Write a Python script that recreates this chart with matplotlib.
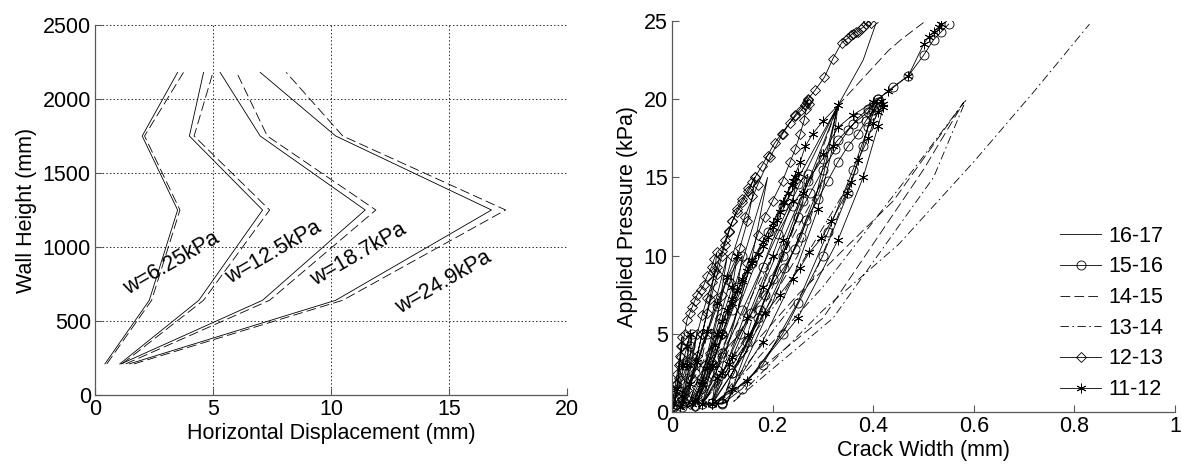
import matplotlib
matplotlib.use("Agg")
import matplotlib.pyplot as plt
import numpy as np

plt.rcParams['font.family'] = ['Liberation Sans', 'DejaVu Sans']
plt.rcParams['lines.scale_dashes'] = False

# ---------------- Left panel data: wall height vs horizontal displacement ----------------
heights = [210, 640, 1250, 1750, 2180]
loads = ['w=6.25kPa', 'w=12.5kPa', 'w=18.7kPa', 'w=24.9kPa']
disp_solid = {
    'w=6.25kPa': [0.42, 2.3, 3.5, 2.0, 3.5],
    'w=12.5kPa': [1.05, 4.4, 7.1, 4.0, 4.6],
    'w=18.7kPa': [1.1, 7.1, 11.45, 7.0, 5.3],
    'w=24.9kPa': [1.45, 10.2, 16.8, 10.2, 7.0],
}
disp_dashed = {
    'w=6.25kPa': [0.5, 2.4, 3.6, 2.1, 3.75],
    'w=12.5kPa': [1.15, 4.6, 7.4, 4.2, 5.0],
    'w=18.7kPa': [1.3, 7.4, 11.9, 7.3, 6.0],
    'w=24.9kPa': [1.65, 10.5, 17.4, 10.5, 8.1],
}
label_pos = {  # (x, height)
    'w=6.25kPa': (3.25, 890),
    'w=12.5kPa': (7.55, 960),
    'w=18.7kPa': (11.15, 946),
    'w=24.9kPa': (14.75, 763),
}

# ---------------- Right panel data: applied pressure vs crack width ----------------
series_names = ['16-17', '15-16', '14-15', '13-14', '12-13', '11-12']

cw_16_17 = [0.0, 0.03, 0.05, 0.035, 0.02,
            0.02, 0.07, 0.11, 0.09, 0.05,
            0.05, 0.12, 0.19, 0.16, 0.08,
            0.08, 0.2, 0.33, 0.3, 0.2, 0.11,
            0.06, 0.16, 0.26, 0.33, 0.28, 0.15, 0.08,
            0.11, 0.25, 0.33, 0.38, 0.405, 0.41]
p_16_17 = [0.3, 3.0, 5.0, 2.5, 0.3,
           0.3, 5.0, 10.0, 6.0, 0.5,
           0.5, 7.5, 15.0, 10.0, 0.6,
           0.6, 11.0, 19.6, 15.0, 7.0, 0.6,
           0.5, 9.0, 15.5, 19.6, 13.0, 4.0, 0.5,
           0.6, 13.0, 19.6, 22.5, 24.8, 24.9]

cw_15_16 = [0.0, 0.012, 0.025, 0.035, 0.04, 0.035, 0.025, 0.02,
            0.025, 0.045, 0.07, 0.09, 0.11, 0.14, 0.13, 0.1, 0.07, 0.045,
            0.05, 0.08, 0.12, 0.16, 0.19, 0.22, 0.25, 0.27, 0.26, 0.22, 0.17, 0.12, 0.08,
            0.08, 0.089, 0.1, 0.135, 0.158, 0.184, 0.222, 0.244, 0.257, 0.267, 0.29, 0.31,
            0.33, 0.35, 0.37, 0.385, 0.4, 0.41, 0.405, 0.395, 0.38, 0.35, 0.3, 0.22, 0.14, 0.1,
            0.06, 0.1, 0.14, 0.18, 0.21, 0.24, 0.27, 0.3, 0.33, 0.36, 0.39, 0.4, 0.41,
            0.39, 0.36, 0.31, 0.25, 0.18, 0.1,
            0.1, 0.12, 0.15, 0.175, 0.2, 0.225, 0.25, 0.275, 0.3, 0.325, 0.35, 0.37, 0.39,
            0.41, 0.44, 0.47, 0.5, 0.52, 0.535, 0.55]
p_15_16 = [0.3, 1.5, 3.0, 4.2, 5.0, 3.2, 1.2, 0.3,
           0.6, 2.5, 5.0, 6.8, 8.5, 10.0, 8.0, 5.0, 2.0, 0.4,
           0.8, 3.0, 6.5, 9.5, 11.5, 13.2, 14.6, 15.2, 13.5, 10.0, 6.0, 2.5, 0.6,
           0.6, 2.7, 3.8, 5.0, 6.3, 7.5, 9.2, 10.4, 11.2, 12.3, 13.6, 14.8,
           16.0, 17.0, 17.8, 18.6, 19.3, 19.8, 19.5, 19.0, 17.0, 14.0, 10.0, 5.0, 1.5, 0.5,
           0.5, 3.5, 6.5, 9.3, 11.4, 13.2, 14.8, 16.2, 17.4, 18.4, 19.2, 19.6, 20.0,
           18.2, 15.5, 11.5, 7.0, 3.0, 0.6,
           0.6, 2.5, 4.5, 6.5, 8.5, 10.5, 12.5, 14.0, 15.5, 16.8, 18.0, 18.8, 19.4,
           20.0, 20.8, 21.5, 22.8, 23.8, 24.3, 24.8]

cw_14_15 = [0.0, 0.04, 0.07, 0.05, 0.03,
            0.03, 0.09, 0.16, 0.12, 0.05,
            0.05, 0.17, 0.3, 0.25, 0.08,
            0.065, 0.25, 0.44, 0.58, 0.5, 0.3, 0.1,
            0.1, 0.2, 0.33, 0.43, 0.455, 0.50]
p_14_15 = [0.2, 3.0, 5.0, 2.0, 0.3,
           0.3, 5.0, 9.8, 5.5, 0.6,
           0.6, 7.0, 14.8, 10.0, 0.8,
           0.8, 7.5, 13.5, 19.8, 15.5, 6.0, 0.8,
           0.8, 8.0, 19.6, 23.1, 23.8, 24.9]

cw_13_14 = [0.0, 0.05, 0.09, 0.06, 0.04,
            0.04, 0.12, 0.2, 0.15, 0.06,
            0.06, 0.22, 0.36, 0.28, 0.09,
            0.09, 0.3, 0.48, 0.585, 0.52, 0.32, 0.12,
            0.12, 0.3, 0.45, 0.6, 0.72, 0.83]
p_13_14 = [0.2, 2.5, 5.0, 2.0, 0.3,
           0.3, 5.0, 10.0, 5.0, 0.5,
           0.5, 7.5, 15.0, 8.5, 0.6,
           0.6, 8.0, 15.5, 20.0, 15.0, 6.0, 0.6,
           0.6, 6.5, 10.7, 16.0, 20.5, 24.8]

cw_12_13 = [0.0, 0.002, 0.004, 0.007, 0.01, 0.013, 0.016, 0.018, 0.02, 0.017, 0.013, 0.008, 0.005,
            0.006, 0.01, 0.015, 0.02, 0.025, 0.03, 0.035, 0.04, 0.045, 0.05, 0.057, 0.063, 0.07,
            0.079, 0.084, 0.089, 0.085, 0.075, 0.06, 0.045, 0.03, 0.02,
            0.02, 0.03, 0.04, 0.05, 0.06, 0.07, 0.08, 0.09, 0.099, 0.106, 0.113, 0.12, 0.13, 0.14,
            0.152, 0.16, 0.165, 0.16, 0.15, 0.135, 0.115, 0.095, 0.075, 0.05, 0.035,
            0.03, 0.04, 0.05, 0.06, 0.07, 0.08, 0.09, 0.099, 0.105, 0.113, 0.12, 0.13, 0.14, 0.152,
            0.165, 0.178, 0.19, 0.204, 0.218, 0.234, 0.245, 0.257, 0.264, 0.271, 0.268, 0.272, 0.266,
            0.263, 0.255, 0.245, 0.235, 0.22, 0.2, 0.184, 0.17, 0.15, 0.13, 0.1, 0.08, 0.06, 0.045,
            0.05, 0.065, 0.08, 0.1, 0.12, 0.145, 0.17, 0.195, 0.22, 0.245, 0.27, 0.285, 0.303, 0.32,
            0.337, 0.345, 0.35, 0.355, 0.36, 0.365, 0.37, 0.375, 0.38, 0.385, 0.39, 0.395]
p_12_13 = [0.3, 0.8, 1.2, 1.8, 2.4, 3.0, 3.6, 4.2, 4.8, 3.5, 2.2, 1.0, 0.3,
           0.8, 1.8, 3.1, 4.2, 5.0, 5.9, 6.3, 6.7, 7.1, 7.5, 7.8, 8.1, 8.7,
           9.3, 9.8, 10.2, 9.0, 7.2, 5.0, 3.0, 1.4, 0.5,
           0.8, 2.2, 3.6, 5.0, 6.2, 7.3, 8.3, 9.3, 10.3, 11.0, 11.6, 12.2, 12.8, 13.4,
           14.1, 14.7, 15.0, 13.8, 12.2, 10.5, 8.3, 6.0, 3.8, 1.6, 0.5,
           0.8, 2.2, 3.6, 5.0, 6.3, 7.6, 8.8, 10.0, 10.7, 11.5, 12.2, 13.0, 13.6, 14.3,
           15.0, 15.7, 16.4, 17.2, 17.8, 18.5, 18.9, 19.3, 19.6, 19.95, 19.8, 19.7, 19.4,
           18.7, 17.8, 16.8, 16.0, 14.8, 13.5, 12.5, 11.3, 9.5, 7.5, 5.0, 3.2, 1.5, 0.4,
           1.0, 3.0, 5.0, 7.5, 10.0, 12.5, 14.5, 16.3, 17.8, 19.0, 20.0, 20.6, 21.4, 22.6,
           23.6, 23.8, 23.9, 24.1, 24.2, 24.3, 24.3, 24.5, 24.6, 24.8, 25.0, 24.9]

cw_11_12 = [0.0, 0.01, 0.02, 0.03, 0.035, 0.03, 0.02, 0.015,
            0.02, 0.035, 0.05, 0.07, 0.09, 0.11, 0.13, 0.12, 0.09, 0.06, 0.04,
            0.045, 0.06, 0.07, 0.085, 0.1, 0.11, 0.12, 0.13, 0.14, 0.15, 0.16, 0.17, 0.18, 0.19,
            0.2, 0.208, 0.215, 0.222, 0.23, 0.238, 0.245, 0.25,
            0.24, 0.2, 0.15, 0.1, 0.06,
            0.06, 0.08, 0.1, 0.12, 0.14, 0.16, 0.18, 0.2, 0.22, 0.24, 0.255, 0.265, 0.28, 0.3, 0.33,
            0.32, 0.29, 0.24, 0.18, 0.12, 0.08,
            0.06, 0.09, 0.113, 0.152, 0.185, 0.214, 0.254, 0.273, 0.297, 0.317, 0.347, 0.356,
            0.37, 0.39, 0.40, 0.41, 0.42, 0.415, 0.42, 0.41, 0.38, 0.33, 0.25, 0.15, 0.08,
            0.08, 0.12, 0.18, 0.22, 0.26, 0.3, 0.33, 0.36, 0.40, 0.43, 0.47, 0.5, 0.51, 0.52, 0.53, 0.535]
p_11_12 = [0.3, 1.5, 3.0, 4.2, 5.0, 3.0, 1.0, 0.3,
           0.5, 1.8, 3.2, 5.2, 7.0, 8.6, 10.0, 8.0, 5.0, 2.0, 0.5,
           0.8, 1.8, 2.8, 4.3, 5.8, 6.5, 7.2, 7.8, 8.4, 9.0, 9.5, 10.1, 10.6, 11.2,
           11.8, 12.3, 12.8, 13.4, 14.0, 14.5, 15.0, 15.3,
           13.5, 10.0, 6.0, 2.5, 0.5,
           0.5, 3.0, 5.0, 7.0, 8.5, 9.7, 10.9, 12.1, 13.4, 14.8, 16.0, 17.0, 17.8, 18.6, 19.6,
           17.0, 13.0, 8.5, 4.5, 1.5, 0.5,
           0.5, 2.2, 3.1, 4.9, 6.3, 7.5, 9.2, 10.2, 11.1, 12.2, 14.0, 14.7,
           16.1, 17.5, 18.5, 19.2, 19.7, 19.9, 19.5, 18.3, 15.0, 11.0, 6.0, 2.0, 0.5,
           0.5, 3.5, 8.0, 11.0, 14.0, 16.5, 18.2, 19.0, 19.8, 20.5, 21.5, 23.5, 24.0, 24.3, 24.6, 24.8]

series_x = [cw_16_17, cw_15_16, cw_14_15, cw_13_14, cw_12_13, cw_11_12]
series_y = [p_16_17, p_15_16, p_14_15, p_13_14, p_12_13, p_11_12]

# ---------------- Styles ----------------
FS = 15.5
DASH = (0, (7.0, 3.0))
DASHDOT = (0, (6.0, 2.5, 1.2, 2.5))
styles = [
    dict(linestyle='-', marker=None),
    dict(linestyle='-', marker='o'),
    dict(linestyle=DASH, marker=None),
    dict(linestyle=DASHDOT, marker=None),
    dict(linestyle='-', marker='D'),
    dict(linestyle='-', marker=(6, 2, 0)),
]
marker_sizes = [0, 6.5, 0, 0, 5.0, 7.0]

fig = plt.figure(figsize=(11.82, 4.68), dpi=100)

# ---------------- Left axes ----------------
ax1 = fig.add_axes([95 / 1182, 1 - 395 / 468, 472 / 1182, 370 / 468])
for name in loads:
    ax1.plot(disp_solid[name], heights, color='k', lw=0.6, linestyle='-')
    ax1.plot(disp_dashed[name], heights, color='k', lw=0.6, linestyle=DASH)
    lx, ly = label_pos[name]
    ax1.text(lx, ly, name, rotation=30, ha='center', va='center', fontsize=FS,
             rotation_mode='anchor')
ax1.set_xlim(0, 20)
ax1.set_ylim(0, 2500)
ax1.set_xticks([0, 5, 10, 15, 20])
ax1.set_yticks([0, 500, 1000, 1500, 2000, 2500])
ax1.grid(True, color='k', linestyle=(0, (1.0, 1.6)), linewidth=0.6)
ax1.set_xlabel('Horizontal Displacement (mm)', fontsize=FS, labelpad=2)
ax1.set_ylabel('Wall Height (mm)', fontsize=FS, labelpad=4)

# ---------------- Right axes ----------------
ax2 = fig.add_axes([672 / 1182, 1 - 412 / 468, 503 / 1182, 391 / 468])
for name, xs, ys, st, ms in zip(series_names, series_x, series_y, styles, marker_sizes):
    ax2.plot(xs, ys, color='k', lw=0.6, linestyle=st['linestyle'], marker=st['marker'],
             markersize=ms, markerfacecolor='none', markeredgecolor='k',
             markeredgewidth=0.6, label=name)
ax2.set_xlim(0, 1)
ax2.set_ylim(0, 25)
ax2.set_xticks([0, 0.2, 0.4, 0.6, 0.8, 1])
ax2.set_xticklabels(['0', '0.2', '0.4', '0.6', '0.8', '1'])
ax2.set_yticks([0, 5, 10, 15, 20, 25])
ax2.set_xlabel('Crack Width (mm)', fontsize=FS, labelpad=2)
ax2.set_ylabel('Applied Pressure (kPa)', fontsize=FS, labelpad=4)
leg = ax2.legend(loc='lower right', bbox_to_anchor=(1.0, 0.0), frameon=False,
                 fontsize=FS, handlelength=1.9, handletextpad=0.33,
                 labelspacing=0.45, borderaxespad=0.15)

for ax in (ax1, ax2):
    for side in ('top', 'right'):
        ax.spines[side].set_visible(False)
    for side in ('left', 'bottom'):
        ax.spines[side].set_color('0.35')
        ax.spines[side].set_linewidth(0.9)
    ax.tick_params(direction='in', length=5, width=0.8, color='0.35',
                   labelsize=FS, pad=3)
    ax.set_facecolor('white')

fig.savefig('out.png', dpi=100, facecolor='white')
